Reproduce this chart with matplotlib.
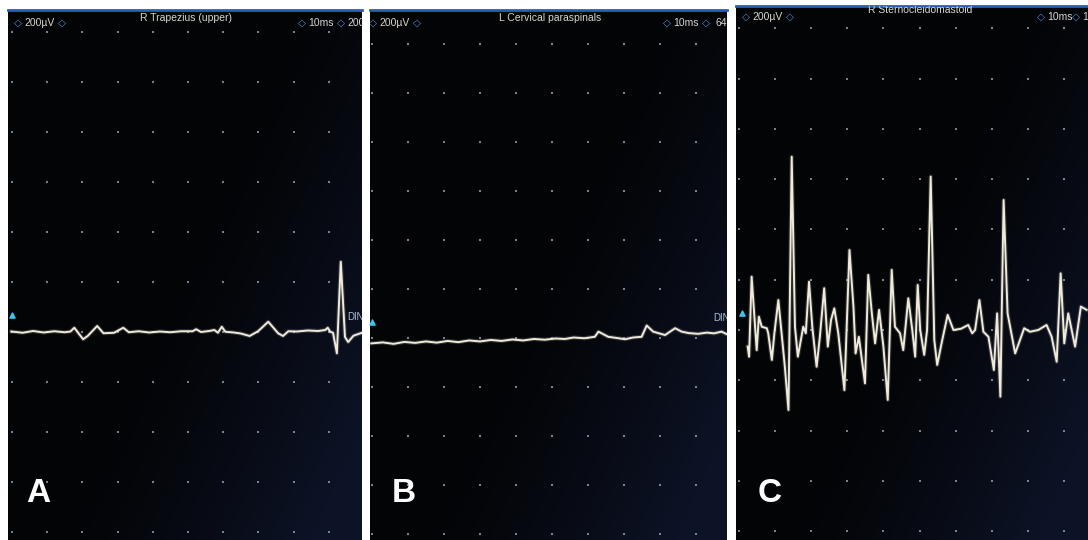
import numpy as np
import matplotlib
matplotlib.use("Agg")
import matplotlib.pyplot as plt
from matplotlib import font_manager

# ─── Data (time in ms, amplitude in µV) ──────────────────────────────────────
titles = ["R Trapezius (upper)", "L Cervical paraspinals", "R Sternocleidomastoid"]
panel_letters = ["A", "B", "C"]
gain_label = "200µV"
sweep_label = "10ms"
right_tail = ["200", "64", "1"]

a_t = [-0.2, 3, 6, 9, 12, 15, 16.6, 17.7, 20.2, 21.5, 24.2, 26, 29, 31.6, 33.2,
       36, 39, 42, 45, 48, 51.3, 52.3, 53.7, 56, 57.5, 58.5, 59.6, 60.6, 63, 65,
       67.5, 69.9, 72.8, 75.6, 77, 78.5, 81, 84, 87, 89, 89.7, 90.4, 91.2, 92.3,
       93.4, 94.6, 95.5, 97.0, 99.4]
a_v = [2, -3, 4, -2, 3, -1, 2, 17, -29, -16, 24, -5, -3, 17, -1,
       3, -2, 2, -1, 3, 3, 11, 0, 4, 8, -3, 21, 1, -2, -6,
       -16, 3, 41, -5, -16, 3, 2, 6, 4, 8, 17, 1, -3, -85,
       281, -20, -40, -15, -3]

b_t = [-0.2, 3, 6, 9, 12, 15, 18, 21, 24, 27, 30, 33, 36, 39, 42, 45, 48, 51,
       53.6, 56, 59, 61.9, 62.9, 65.6, 68, 70.3, 72.5, 74.9, 76.3, 78.1, 81.4,
       84.2, 86, 88, 90.6, 93, 95, 97.1, 98.5]
b_v = [-22, -18, -24, -16, -20, -14, -19, -12, -17, -10, -14, -8, -12, -6, -10,
       -4, -7, -2, -4, 2, -1, 5, 26, 5, 0, -5, 2, 5, 51, 26, 12,
       40, 26, 20, 17, 22, 19, 26, 16]

c_t = [2.4, 2.8, 3.5, 4.9, 5.5, 6.3, 7.7, 8.1, 9.1, 9.8, 10.9, 11.8, 12.7, 13.7,
       14.6, 15.5, 16.3, 17.8, 18.5, 19.4, 20.3, 21.5, 22.4, 23.6, 24.6, 25.5,
       26.4, 27.5, 29.2, 30.6, 31.7, 32.3, 33.2, 34.9, 35.8, 36.8, 37.7, 38.8,
       40.0, 41.2, 42.3, 43.2, 44.6, 45.5, 46.9, 48.0, 48.8, 49.5, 50.2, 51.3,
       52.1, 53.1, 54.1, 54.9, 56.3, 57.8, 59.4, 61.5, 63.5, 64.6, 65.4, 66.6,
       67.7, 69.1, 70.6, 71.5, 72.4, 73.3, 74.4, 76.5, 79.0, 80.6, 82.9, 85.2,
       86.6, 88.0, 89.1, 90.1, 91.2, 93.1, 94.7, 96.3]
c_v = [-66, -106, 212, -80, 53, 13, 7, -13, -119, -13, 119, -13, -146, -318,
       689, 13, -106, 13, -13, 192, 13, -146, -27, 166, -66, 40,
       86, -13, -239, 318, 93, -93, -27, -212, 219, 66, -53, 80,
       -66, -278, 239, 13, -13, -80, 126, 0, -106, 179, 0, -99,
       0, 610, -40, -139, -40, 60, 0, 5, 20, -13, 0, 119,
       -7, -27, -159, 66, -265, 517, 66, -93, 7, -7, 0, 20,
       -27, -126, 225, -53, 66, -66, 93, 80]

traces = [(a_t, a_v), (b_t, b_v), (c_t, c_v)]

# ─── Layout: pixel calibration of each photographed screen ───────────────────
W, H = 1088, 540
# (left, right, top, bottom, grid x0, px per div x, baseline y, px per div y)
panels = [
    (8, 362, 10, 540, 12, 35.2, 332, 50.0),
    (370, 727, 10, 540, 372, 36.0, 338, 49.0),
    (736, 1088, 6, 540, 739, 36.1, 330, 50.3),
]
# header x positions in px: left diamond, gain, diamond, title centre,
# right diamond, sweep, diamond, tail ; and header y (gain / title)
headers = [
    (18, 24, 62, 186, 302, 308, 341, 347, 23, 18),
    (373, 379, 417, 550, 667, 673, 706, 716, 23, 18),
    (746, 752, 790, 920, 1041, 1047, 1076, 1082, 17, 10),
]
letter_pos = [(26, 494), (392, 494), (758, 494)]
marker_pos = [(12, 315), (372, 322), (742, 313)]
din_pos = [(347, 317), (713, 318), None]

fonts = {f.name for f in font_manager.fontManager.ttflist}
NARROW = "Liberation Sans Narrow" if "Liberation Sans Narrow" in fonts else "Liberation Sans"

TEXT = "#d6d6cf"
DIAM = "#4b8fd6"
TRACE = "#efeadb"
DOT = "#9aa7bb"

fig = plt.figure(figsize=(W / 100, H / 100), dpi=100)
fig.patch.set_facecolor("white")

# soft navy tint towards the lower right of each screen (row 0 = top)
gy, gx = np.mgrid[0:1:64j, 0:1:64j]
tint = np.clip((gx - 0.5) * 1.3 + (gy - 0.45) * 0.9, 0, 1) ** 1.3

for i, (x0, x1, y0, y1, gx0, dx, by, dy) in enumerate(panels):
    ax = fig.add_axes([x0 / W, 1 - y1 / H, (x1 - x0) / W, (y1 - y0) / H])
    ax.set_facecolor("#030406")
    ax.set_xlim((x0 - gx0) / dx * 10, (x1 - gx0) / dx * 10)
    ax.set_ylim((by - y1) / dy * 200, (by - y0) / dy * 200)
    ax.set_xticks([])
    ax.set_yticks([])
    for s in ["left", "right", "bottom"]:
        ax.spines[s].set_visible(False)
    ax.spines["top"].set_color("#2c5db0")
    ax.spines["top"].set_linewidth(2.0)

    rgba = np.zeros((64, 64, 4))
    rgba[..., 0] = 0.07
    rgba[..., 1] = 0.10
    rgba[..., 2] = 0.20
    rgba[..., 3] = tint * 0.75
    ax.imshow(rgba, extent=(0, 1, 0, 1), transform=ax.transAxes,
              aspect="auto", zorder=0, interpolation="bilinear")

    # dot graticule
    xl, yl = ax.get_xlim(), ax.get_ylim()
    gxs = [t for t in range(0, 101, 10) if xl[0] < t < xl[1] - 1]
    gys = [v for v in range(-1000, 1401, 200) if yl[0] < v < yl[1]]
    GX, GY = np.meshgrid(gxs, gys)
    ax.scatter(GX.ravel(), GY.ravel(), s=4, marker="|", color=DOT,
               linewidths=1.1, zorder=1)

    # trace with a faint glow
    t, v = traces[i]
    ax.plot(t, v, color=TRACE, lw=3.0, alpha=0.18, zorder=2)
    ax.plot(t, v, color=TRACE, lw=1.4, zorder=3, solid_joinstyle="round")

    def frac(px, py):
        return (px - x0) / (x1 - x0), (y1 - py) / (y1 - y0)

    hx = headers[i]
    ty, tty = hx[8], hx[9]
    kw = dict(transform=ax.transAxes, va="center", clip_on=True,
              family=[NARROW, "DejaVu Sans"], fontsize=7.5)
    dkw = {**kw, "family": "DejaVu Sans", "fontsize": 7.5}
    ax.text(*frac(hx[0], ty), "◇", color=DIAM, ha="center", **dkw)
    ax.text(*frac(hx[1], ty), gain_label, color=TEXT, ha="left", **kw)
    ax.text(*frac(hx[2], ty), "◇", color=DIAM, ha="center", **dkw)
    ax.text(*frac(hx[3], tty), titles[i], color=TEXT, ha="center", **kw)
    ax.text(*frac(hx[4], ty), "◇", color=DIAM, ha="center", **dkw)
    ax.text(*frac(hx[5], ty), sweep_label, color=TEXT, ha="left", **kw)
    ax.text(*frac(hx[6], ty), "◇", color=DIAM, ha="center", **dkw)
    ax.text(*frac(hx[7], ty), right_tail[i], color=TEXT, ha="left", **kw)

    # cyan baseline marker
    mx, my = frac(*marker_pos[i])
    ax.scatter([mx], [my], marker="^", s=14, color="#3cc4e8",
               transform=ax.transAxes, zorder=4, clip_on=False)

    if din_pos[i] is not None:
        ax.text(*frac(*din_pos[i]), "DIN4", color="#a9c0dc", ha="left",
                va="center", transform=ax.transAxes, clip_on=True,
                family=[NARROW, "DejaVu Sans"], fontsize=7)

    lx, ly = frac(*letter_pos[i])
    ax.text(lx, ly, panel_letters[i], color="white", ha="left", va="center",
            transform=ax.transAxes, family=[NARROW, "DejaVu Sans"],
            fontweight="bold", fontsize=24)

fig.savefig("out.png", dpi=100, facecolor="white")
